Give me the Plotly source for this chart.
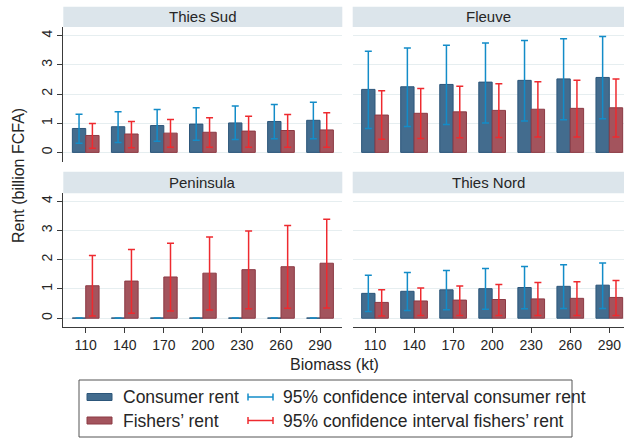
import plotly.graph_objects as go

W, H = 624, 439

biomass = ['110', '140', '170', '200', '230', '260', '290']
regions = ['Thies Sud', 'Fleuve', 'Peninsula', 'Thies Nord']

# Thies Sud
ts_cons = [0.82, 0.88, 0.92, 0.97, 1.01, 1.06, 1.10]
ts_cons_hi = [1.31, 1.39, 1.47, 1.53, 1.59, 1.64, 1.72]
ts_cons_lo = [0.31, 0.34, 0.38, 0.42, 0.44, 0.47, 0.47]
ts_fish = [0.58, 0.63, 0.66, 0.69, 0.73, 0.75, 0.77]
ts_fish_hi = [0.99, 1.06, 1.13, 1.19, 1.24, 1.30, 1.36]
ts_fish_lo = [0.14, 0.16, 0.18, 0.18, 0.18, 0.18, 0.18]

# Fleuve
fl_cons = [2.16, 2.25, 2.33, 2.41, 2.47, 2.52, 2.57]
fl_cons_hi = [3.47, 3.58, 3.67, 3.75, 3.84, 3.90, 3.97]
fl_cons_lo = [0.82, 0.89, 0.96, 1.01, 1.08, 1.12, 1.15]
fl_fish = [1.28, 1.34, 1.39, 1.44, 1.48, 1.51, 1.53]
fl_fish_hi = [2.11, 2.19, 2.27, 2.35, 2.42, 2.47, 2.52]
fl_fish_lo = [0.45, 0.48, 0.50, 0.51, 0.53, 0.53, 0.53]

# Peninsula
pe_cons = [0.01, 0.01, 0.01, 0.01, 0.01, 0.01, 0.01]
pe_cons_hi = [0.01, 0.01, 0.01, 0.01, 0.01, 0.01, 0.01]
pe_cons_lo = [0.01, 0.01, 0.01, 0.01, 0.01, 0.01, 0.01]
pe_fish = [1.11, 1.27, 1.41, 1.54, 1.66, 1.76, 1.88]
pe_fish_hi = [2.14, 2.35, 2.56, 2.78, 2.98, 3.17, 3.38]
pe_fish_lo = [0.08, 0.17, 0.25, 0.28, 0.32, 0.34, 0.35]

# Thies Nord
tn_cons = [0.85, 0.92, 0.97, 1.01, 1.05, 1.09, 1.13]
tn_cons_hi = [1.47, 1.56, 1.63, 1.70, 1.77, 1.83, 1.89]
tn_cons_lo = [0.23, 0.26, 0.29, 0.31, 0.32, 0.33, 0.33]
tn_fish = [0.54, 0.59, 0.62, 0.64, 0.66, 0.68, 0.71]
tn_fish_hi = [0.97, 1.03, 1.10, 1.15, 1.22, 1.25, 1.29]
tn_fish_lo = [0.08, 0.09, 0.09, 0.09, 0.09, 0.09, 0.09]

y_ticks = [0, 1, 2, 3, 4]

panels = [
    (ts_cons, ts_cons_hi, ts_cons_lo, ts_fish, ts_fish_hi, ts_fish_lo),
    (fl_cons, fl_cons_hi, fl_cons_lo, fl_fish, fl_fish_hi, fl_fish_lo),
    (pe_cons, pe_cons_hi, pe_cons_lo, pe_fish, pe_fish_hi, pe_fish_lo),
    (tn_cons, tn_cons_hi, tn_cons_lo, tn_fish, tn_fish_hi, tn_fish_lo),
]

C_FILL, C_LINE, C_ERR = '#436C8E', '#2C567A', '#138CC8'
F_FILL, F_LINE, F_ERR = '#A3545D', '#8C3A44', '#EE2A2F'
FONT = 'Liberation Sans, Arial, sans-serif'
TXT = '#262626'


def px(x):
    return x / W


def py(y):
    return 1 - y / H


fig = go.Figure()

for i, (c, chi, clo, f, fhi, flo) in enumerate(panels):
    sfx = '' if i == 0 else str(i + 1)
    fig.add_trace(go.Bar(
        x=biomass, y=c, xaxis='x' + sfx, yaxis='y' + sfx, offsetgroup='c',
        marker=dict(color=C_FILL, line=dict(color=C_LINE, width=1)),
        error_y=dict(type='data', symmetric=False,
                     array=[h - v for h, v in zip(chi, c)],
                     arrayminus=[v - l for v, l in zip(c, clo)],
                     color=C_ERR, thickness=1.5, width=3.5),
        showlegend=False, hoverinfo='skip'))
    fig.add_trace(go.Bar(
        x=biomass, y=f, xaxis='x' + sfx, yaxis='y' + sfx, offsetgroup='f',
        marker=dict(color=F_FILL, line=dict(color=F_LINE, width=1)),
        error_y=dict(type='data', symmetric=False,
                     array=[h - v for h, v in zip(fhi, f)],
                     arrayminus=[v - l for v, l in zip(f, flo)],
                     color=F_ERR, thickness=1.5, width=3.5),
        showlegend=False, hoverinfo='skip'))

# panel geometry in pixels
cols = [(63.3, 342.3, [-0.574, 6.57]), (352.7, 624, [-0.571, 6.376])]
rows = [(27, 162, [-0.33, 4.30], (6.7, 27)), (193.3, 327, [-0.30, 4.27], (171.7, 193.3))]

layout = dict(
    width=W, height=H, margin=dict(l=0, r=0, t=0, b=0),
    paper_bgcolor='white', plot_bgcolor='white',
    barmode='group', bargap=0.316, bargroupgap=0,
    font=dict(family=FONT, color=TXT, size=14),
    showlegend=False,
)
shapes = []
annotations = []

for i in range(4):
    r, cidx = divmod(i, 2)
    x0, x1, xr = cols[cidx]
    y0, y1, yr, strip = rows[r]
    sfx = '' if i == 0 else str(i + 1)
    bottom = r == 1
    left = cidx == 0
    layout['xaxis' + sfx] = dict(
        domain=[px(x0), px(x1)], anchor='y' + sfx, range=xr,
        type='category', showgrid=False, zeroline=False,
        showline=bottom, linecolor='#3a3a3a', linewidth=1,
        ticks='outside' if bottom else '', ticklen=5, tickcolor='#3a3a3a',
        showticklabels=bottom, tickfont=dict(size=14, color=TXT))
    layout['yaxis' + sfx] = dict(
        domain=[py(y1), py(y0)], anchor='x' + sfx, range=yr,
        tickvals=y_ticks, showgrid=True, gridcolor='#E6EEF0', gridwidth=1,
        zeroline=False, showline=left, linecolor='#3a3a3a', linewidth=1,
        ticks='outside' if left else '', ticklen=5, tickcolor='#3a3a3a',
        showticklabels=left, tickangle=-90, tickfont=dict(size=14, color=TXT))
    shapes.append(dict(type='rect', xref='paper', yref='paper',
                       x0=px(x0), x1=px(x1), y0=py(strip[1]), y1=py(strip[0]),
                       fillcolor='#DCE5EB', line=dict(width=0), layer='below'))
    annotations.append(dict(text=regions[i], xref='paper', yref='paper',
                            x=px((x0 + x1) / 2), y=py((strip[0] + strip[1]) / 2),
                            showarrow=False, xanchor='center', yanchor='middle',
                            font=dict(size=15, color=TXT)))

# axis titles
annotations.append(dict(text='Rent (billion FCFA)', xref='paper', yref='paper',
                        x=px(18), y=py(176), textangle=-90, showarrow=False,
                        xanchor='center', yanchor='middle', font=dict(size=16, color=TXT)))
annotations.append(dict(text='Biomass (kt)', xref='paper', yref='paper',
                        x=px(334), y=py(364), showarrow=False,
                        xanchor='center', yanchor='middle', font=dict(size=16, color=TXT)))

# legend box
shapes.append(dict(type='rect', xref='paper', yref='paper',
                   x0=px(79), x1=px(572), y0=py(437), y1=py(380),
                   line=dict(color='#555555', width=1), fillcolor='rgba(0,0,0,0)'))
leg_rows = [397, 420.5]
legend_items = [
    ('Consumer rent', C_FILL, C_LINE, '95% confidence interval consumer rent', C_ERR),
    ('Fishers’ rent', F_FILL, F_LINE, '95% confidence interval fishers’ rent', F_ERR),
]
for yy, (lab, fill, line, cilab, ecol) in zip(leg_rows, legend_items):
    shapes.append(dict(type='rect', xref='paper', yref='paper',
                       x0=px(87), x1=px(112), y0=py(yy + 3.5), y1=py(yy - 3.5),
                       fillcolor=fill, line=dict(color=line, width=1)))
    annotations.append(dict(text=lab, xref='paper', yref='paper', x=px(121), y=py(yy),
                            showarrow=False, xanchor='left', yanchor='middle',
                            font=dict(size=17.5, color=TXT)))
    shapes.append(dict(type='line', xref='paper', yref='paper',
                       x0=px(248), x1=px(273), y0=py(yy), y1=py(yy),
                       line=dict(color=ecol, width=1.5)))
    for xe in (248, 273):
        shapes.append(dict(type='line', xref='paper', yref='paper',
                           x0=px(xe), x1=px(xe), y0=py(yy - 3.5), y1=py(yy + 3.5),
                           line=dict(color=ecol, width=1.5)))
    annotations.append(dict(text=cilab, xref='paper', yref='paper', x=px(281), y=py(yy),
                            showarrow=False, xanchor='left', yanchor='middle',
                            font=dict(size=17.5, color=TXT)))

layout['shapes'] = shapes
layout['annotations'] = annotations
fig.update_layout(**layout)
fig.write_html('out.html', config={'displayModeBar': False},
               post_script="document.body.style.margin='0';document.body.style.padding='0';")
